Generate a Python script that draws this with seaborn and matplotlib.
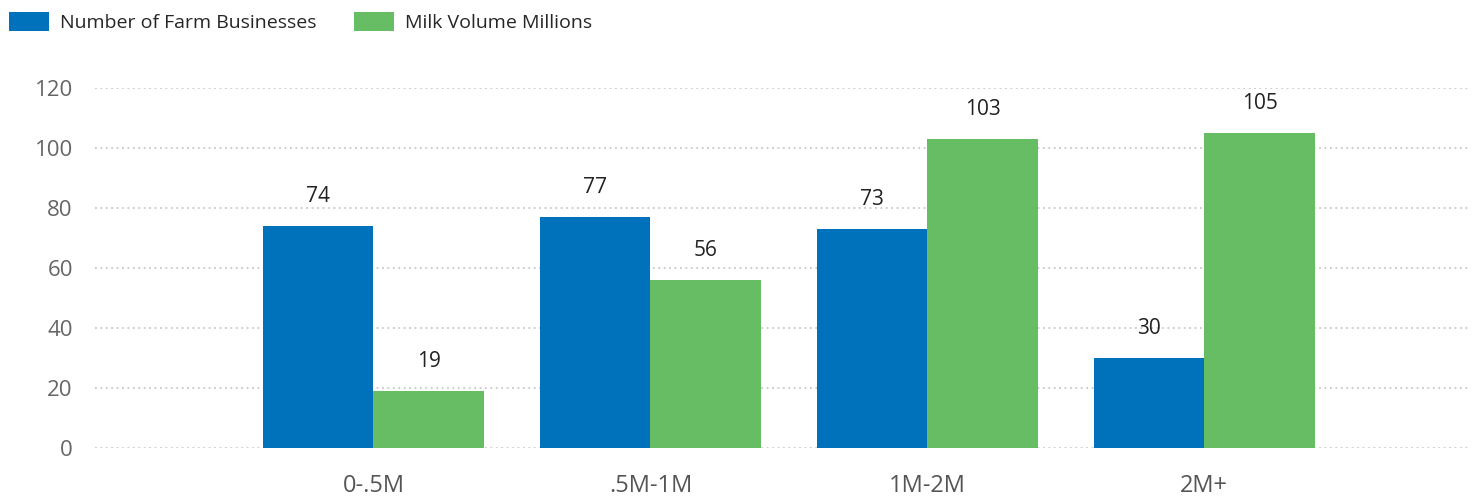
import matplotlib

matplotlib.use("Agg")

import matplotlib.pyplot as plt
import pandas as pd
import seaborn as sns

categories = ["0-.5M", ".5M-1M", "1M-2M", "2M+"]
farm_businesses = [74, 77, 73, 30]
milk_volume = [19, 56, 103, 105]
series_names = ["Number of Farm Businesses", "Milk Volume Millions"]
y_ticks = [0, 20, 40, 60, 80, 100, 120]

frame = pd.DataFrame({
    "Band": categories * 2,
    "Value": farm_businesses + milk_volume,
    "Series": [series_names[0]] * len(categories) + [series_names[1]] * len(categories),
})

sns.set_theme(style="white")
plt.rcParams["font.family"] = ["Open Sans", "DejaVu Sans"]

fig = plt.figure(figsize=(14.74, 4.97), dpi=100)
ax = fig.add_axes([0.0645, 0.0986, 0.932, 0.7244])

sns.barplot(
    data=frame,
    x="Band",
    y="Value",
    hue="Series",
    palette=["#0072BC", "#66BD63"],
    width=0.8,
    saturation=1,
    linewidth=0,
    ax=ax,
    legend=True,
)

for container in ax.containers:
    ax.bar_label(container, padding=14, fontsize=15, color="#222222")

ax.set_ylim(0, 120)
ax.set_xlim(-1.005, 3.955)
ax.set_yticks(y_ticks)
ax.yaxis.grid(True, linestyle=(0, (1, 2)), color="#c8c8c8", linewidth=1.3)
ax.set_axisbelow(True)
ax.set_xlabel("")
ax.set_ylabel("")
for spine in ax.spines.values():
    spine.set_visible(False)
ax.tick_params(axis="y", length=0, pad=16, labelsize=16, labelcolor="#666666")
ax.tick_params(axis="x", length=0, pad=19, labelsize=17, labelcolor="#555555")

handles, labels = ax.get_legend_handles_labels()
ax.get_legend().remove()
fig.legend(
    handles,
    labels,
    loc="upper left",
    bbox_to_anchor=(0.006, 0.976),
    borderaxespad=0,
    borderpad=0,
    ncol=2,
    frameon=False,
    fontsize=14,
    handlelength=2.05,
    handleheight=1.15,
    handletextpad=0.6,
    columnspacing=1.9,
)

fig.savefig("out.png", dpi=100)
plt.close(fig)
